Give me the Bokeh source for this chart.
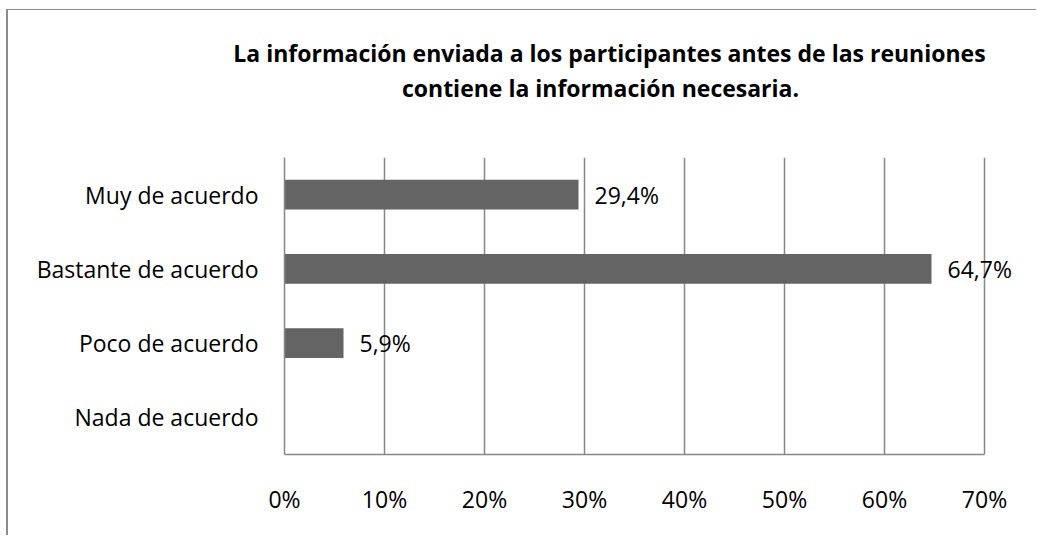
from bokeh.plotting import figure
from bokeh.models import (FactorRange, Range1d, ColumnDataSource, LabelSet, LinearAxis,
                          PrintfTickFormatter, FixedTicker)
from bokeh.core.properties import value
from bokeh.embed import file_html
from bokeh.resources import INLINE

# ---- data ----
categories = ["Muy de acuerdo", "Bastante de acuerdo", "Poco de acuerdo", "Nada de acuerdo"]
percentages = [29.4, 64.7, 5.9, 0.0]
x_ticks = [0, 10, 20, 30, 40, 50, 60, 70]
title_line1 = "La información enviada a los participantes antes de las reuniones"
title_line2 = "contiene la información necesaria."

FONT = "Open Sans"
GRID = "#878787"
BAR = "#646464"
LBL = "23px"

p = figure(width=1030, height=526, output_backend="svg", toolbar_location=None,
           y_range=FactorRange(factors=list(reversed(categories))),
           x_range=Range1d(0, 75.4),
           min_border_left=276, min_border_right=0, min_border_top=147, min_border_bottom=82)
p.styles = {"margin-top": "9px", "margin-left": "6px",
            "border-top": "1px solid #8c8c8c", "border-left": "2px solid #8c8c8c"}
p.outline_line_color = None
p.background_fill_color = "white"
p.border_fill_color = "white"

src = ColumnDataSource(dict(cat=categories, val=percentages))
p.hbar(y="cat", right="val", left=0, height=0.4, source=src, fill_color=BAR, line_color=None)

lab_cats = [c for c, v in zip(categories, percentages) if v > 0]
lab_vals = [v for v in percentages if v > 0]
lab_txt = [f"{v:.1f}".replace(".", ",") + "%" for v in lab_vals]
lsrc = ColumnDataSource(dict(cat=lab_cats, val=lab_vals, txt=lab_txt))
p.add_layout(LabelSet(x="val", y="cat", text="txt", source=lsrc, x_offset=16,
                      text_font=value(FONT), text_font_size=value(LBL), text_color="black",
                      text_align="left", text_baseline="middle"))

# grid
p.ygrid.grid_line_color = None
p.xgrid.grid_line_color = GRID
p.xgrid.grid_line_width = 1.5
p.xgrid.ticker = FixedTicker(ticks=x_ticks)

# x axis
p.xaxis.ticker = FixedTicker(ticks=x_ticks)
p.xaxis.bounds = (x_ticks[0], x_ticks[-1])
p.xaxis.formatter = PrintfTickFormatter(format="%d%%")
p.xaxis.axis_line_color = GRID
p.xaxis.axis_line_width = 1.5
p.xaxis.major_tick_line_color = None
p.xaxis.minor_tick_line_color = None
p.xaxis.major_tick_out = 0
p.xaxis.major_label_standoff = 28
p.xaxis.major_label_text_font = FONT
p.xaxis.major_label_text_font_size = LBL
p.xaxis.major_label_text_color = "black"

# y axis
p.yaxis.axis_line_color = GRID
p.yaxis.axis_line_width = 1.5
p.yaxis.major_tick_line_color = None
p.yaxis.minor_tick_line_color = None
p.yaxis.major_tick_out = 0
p.yaxis.major_label_standoff = 26
p.yaxis.major_label_text_font = FONT
p.yaxis.major_label_text_font_size = LBL
p.yaxis.major_label_text_color = "black"

# title: two centred bold lines placed above the plot area
def title_axis(text, center, standoff):
    ax = LinearAxis(ticker=FixedTicker(ticks=[center]),
                    major_label_overrides={center: text})
    ax.axis_line_color = None
    ax.major_tick_line_color = None
    ax.minor_tick_line_color = None
    ax.major_tick_out = 0
    ax.major_tick_in = 0
    ax.minor_tick_out = 0
    ax.major_label_standoff = standoff
    ax.major_label_text_font = FONT
    ax.major_label_text_font_style = "bold"
    ax.major_label_text_font_size = "23px"
    ax.major_label_text_color = "black"
    return ax

p.add_layout(title_axis(title_line2, 31.6, 54), "above")
p.add_layout(title_axis(title_line1, 32.5, 0), "above")

open("out.html", "w").write(file_html(p, INLINE))
